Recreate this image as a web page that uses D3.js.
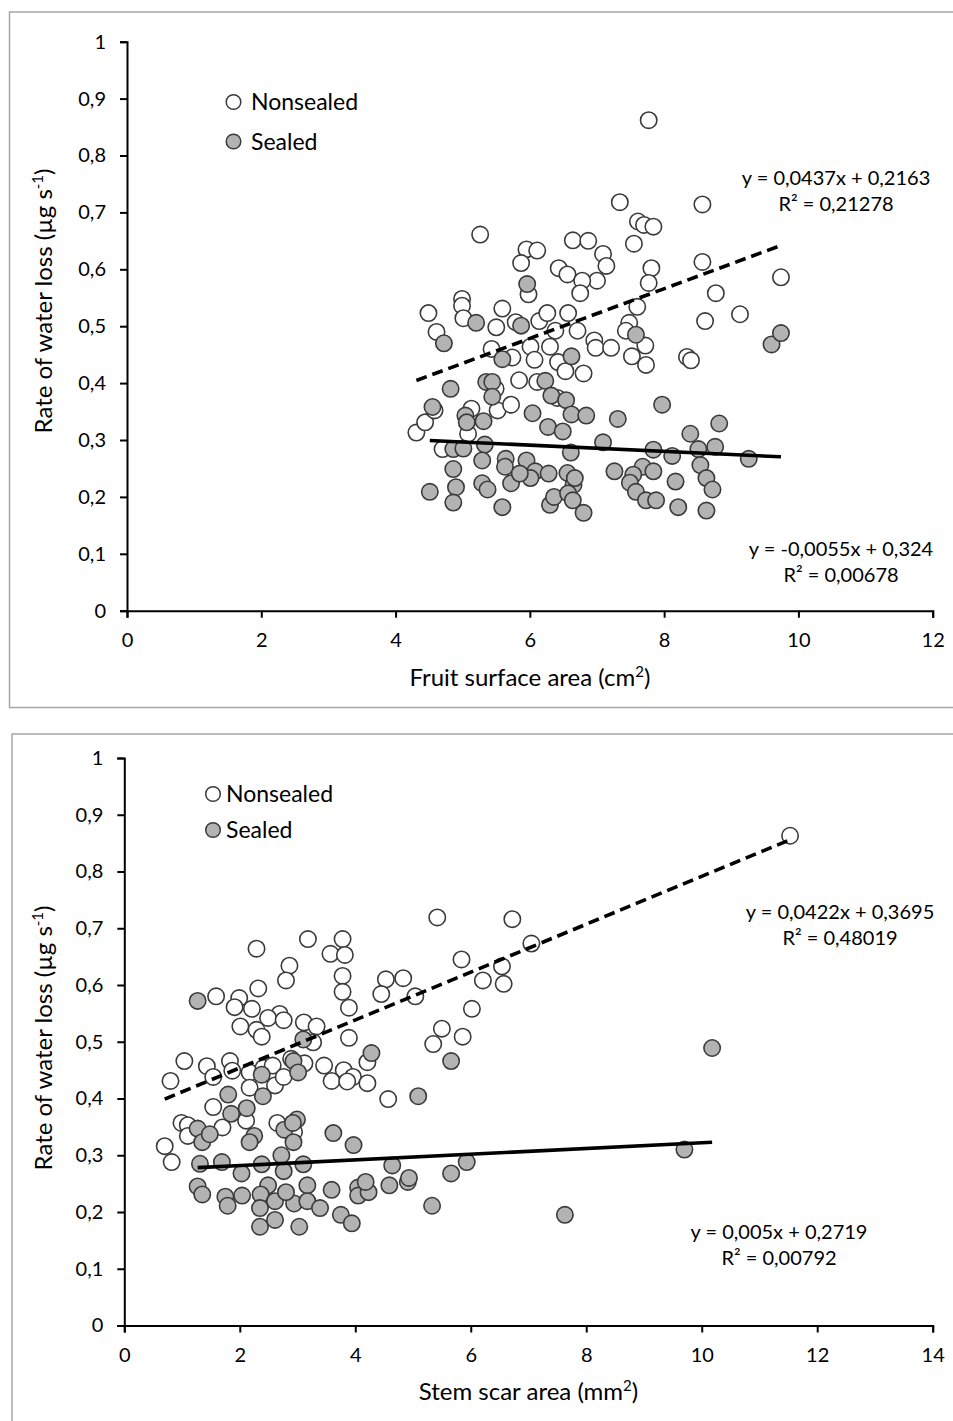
<!DOCTYPE html>
<html>
<head>
<meta charset="utf-8">
<script src="https://cdn.jsdelivr.net/npm/d3@7"></script>
<style>
body { margin: 0; background: #fff; }
svg { display: block; font-family: Lato, sans-serif; }
</style>
</head>
<body>
<div id="chart"></div>
<script>
var w = 953;
var h = 1421;

// top panel: fruit surface area (cm2) against rate of water loss
var fruitNonsealed = [
	[7.77,0.862],[7.34,0.718],[8.57,0.714],[5.26,0.661],[6.64,0.651],[6.87,0.650],
	[7.61,0.684],[7.70,0.678],[7.84,0.675],[7.55,0.645],[5.95,0.635],[6.11,0.633],
	[5.87,0.611],[5.98,0.556],[6.43,0.602],[6.56,0.591],[7.09,0.627],[7.14,0.606],
	[7.00,0.580],[6.78,0.580],[7.81,0.602],[7.77,0.576],[8.57,0.613],[9.74,0.586],
	[8.77,0.558],[6.75,0.558],[8.61,0.509],[9.13,0.521],[4.49,0.523],[4.99,0.548],
	[4.99,0.536],[5.01,0.514],[5.59,0.531],[5.50,0.498],[5.79,0.507],[6.14,0.509],
	[6.26,0.523],[6.57,0.523],[6.38,0.492],[6.71,0.492],[4.61,0.490],[7.48,0.506],
	[7.60,0.534],[7.43,0.492],[7.72,0.466],[7.52,0.447],[7.73,0.432],[6.96,0.475],
	[6.98,0.462],[7.21,0.462],[6.01,0.464],[6.07,0.441],[5.74,0.445],[5.84,0.405],
	[6.42,0.437],[6.30,0.464],[6.53,0.421],[6.80,0.417],[6.41,0.374],[8.34,0.446],
	[8.40,0.440],[6.11,0.402],[4.31,0.313],[4.44,0.331],[4.58,0.352],[4.70,0.284],
	[5.13,0.355],[5.08,0.311],[5.52,0.352],[5.72,0.362],[5.49,0.390],[5.43,0.460]
];
var fruitSealed = [
	[5.96,0.574],[5.20,0.506],[5.87,0.501],[4.72,0.470],[5.59,0.442],[6.62,0.447],
	[7.58,0.485],[9.60,0.468],[9.74,0.488],[4.82,0.390],[5.35,0.402],[5.44,0.402],
	[6.23,0.404],[5.44,0.376],[6.32,0.378],[6.54,0.370],[7.97,0.362],[4.55,0.358],
	[5.04,0.343],[5.06,0.331],[5.31,0.333],[6.04,0.347],[6.62,0.345],[6.84,0.343],
	[7.31,0.337],[8.82,0.329],[6.27,0.323],[6.49,0.315],[8.39,0.311],[5.33,0.292],
	[6.61,0.278],[7.09,0.296],[7.84,0.283],[8.51,0.284],[8.76,0.288],[8.12,0.272],
	[9.26,0.267],[4.86,0.284],[5.01,0.285],[5.29,0.264],[5.64,0.267],[5.95,0.264],
	[4.86,0.249],[5.63,0.253],[6.08,0.245],[6.28,0.241],[6.56,0.242],[7.26,0.245],
	[7.68,0.253],[7.54,0.239],[7.84,0.245],[8.54,0.256],[8.63,0.233],[4.51,0.209],
	[4.90,0.217],[5.29,0.224],[5.37,0.213],[5.72,0.224],[6.01,0.233],[6.65,0.221],
	[6.67,0.233],[7.49,0.225],[7.58,0.209],[8.17,0.227],[8.72,0.213],[4.86,0.190],
	[5.59,0.182],[6.30,0.186],[6.36,0.200],[6.57,0.206],[6.64,0.194],[6.80,0.172],
	[7.73,0.194],[7.88,0.194],[8.21,0.182],[8.63,0.176],[5.85,0.241]
];

// bottom panel: stem scar area (mm2) against rate of water loss
var scarNonsealed = [
	[11.53,0.863],[5.42,0.719],[6.72,0.716],[7.05,0.673],[2.29,0.664],[3.18,0.681],
	[3.78,0.681],[3.57,0.655],[3.82,0.653],[2.86,0.634],[5.84,0.645],[6.54,0.633],
	[2.80,0.608],[3.78,0.616],[2.32,0.594],[1.59,0.580],[1.99,0.577],[1.91,0.561],
	[2.21,0.558],[3.78,0.588],[3.89,0.560],[4.53,0.610],[4.83,0.612],[4.45,0.584],
	[5.04,0.580],[6.21,0.608],[6.57,0.602],[6.02,0.558],[2.69,0.549],[2.49,0.542],
	[2.76,0.538],[2.01,0.527],[2.29,0.521],[2.38,0.509],[3.11,0.534],[3.33,0.527],
	[3.27,0.499],[3.89,0.507],[5.50,0.523],[5.35,0.496],[5.86,0.509],[0.80,0.431],
	[1.04,0.466],[1.43,0.457],[1.83,0.466],[1.87,0.449],[2.17,0.446],[2.41,0.454],
	[2.57,0.458],[2.89,0.470],[3.12,0.462],[3.46,0.458],[3.80,0.450],[3.96,0.438],
	[3.59,0.431],[3.86,0.430],[4.21,0.464],[4.21,0.427],[4.57,0.399],[1.54,0.438],
	[1.54,0.385],[2.17,0.419],[2.61,0.423],[2.76,0.438],[0.99,0.357],[1.10,0.353],
	[1.10,0.334],[0.70,0.316],[0.82,0.288],[1.70,0.349],[2.11,0.361],[2.65,0.357],
	[2.94,0.341]
];
var scarSealed = [
	[1.27,0.572],[10.18,0.489],[5.66,0.466],[4.28,0.480],[3.10,0.504],[2.93,0.466],
	[3.01,0.446],[2.38,0.442],[1.80,0.407],[2.40,0.404],[5.09,0.404],[1.85,0.373],
	[2.12,0.383],[3.62,0.339],[3.97,0.318],[1.27,0.347],[1.35,0.323],[1.48,0.337],
	[2.25,0.334],[2.17,0.323],[2.77,0.345],[2.99,0.363],[2.92,0.357],[2.93,0.323],
	[9.70,0.310],[1.31,0.285],[1.69,0.288],[2.72,0.300],[2.38,0.284],[3.10,0.284],
	[2.76,0.272],[2.03,0.268],[4.64,0.282],[5.93,0.288],[5.66,0.268],[1.27,0.245],
	[1.35,0.231],[1.75,0.227],[1.79,0.211],[2.04,0.229],[2.49,0.247],[2.36,0.231],
	[2.61,0.219],[2.35,0.207],[2.35,0.174],[2.94,0.215],[2.61,0.186],[3.03,0.174],
	[3.17,0.247],[3.17,0.219],[3.39,0.207],[3.59,0.239],[3.75,0.195],[3.94,0.180],
	[4.05,0.243],[4.05,0.229],[4.23,0.235],[4.18,0.253],[4.59,0.247],[4.91,0.253],
	[4.93,0.260],[5.33,0.211],[7.63,0.195],[2.80,0.235]
];

// fitted lines: [slope, intercept]
var fruitFitNonsealed = [0.0437, 0.2163];
var fruitFitSealed = [-0.0055, 0.324];
var scarFitNonsealed = [0.0422, 0.3695];
var scarFitSealed = [0.005, 0.2719];

var fruitEqNonsealed = ["y = 0,0437x + 0,2163", "R² = 0,21278"];
var fruitEqSealed = ["y = -0,0055x + 0,324", "R² = 0,00678"];
var scarEqNonsealed = ["y = 0,0422x + 0,3695", "R² = 0,48019"];
var scarEqSealed = ["y = 0,005x + 0,2719", "R² = 0,00792"];

var fruitXTicks = [0, 2, 4, 6, 8, 10, 12];
var scarXTicks = [0, 2, 4, 6, 8, 10, 12, 14];
var yTicks = [0, 0.1, 0.2, 0.3, 0.4, 0.5, 0.6, 0.7, 0.8, 0.9, 1];
var seriesNames = ["Nonsealed", "Sealed"];

var commaFormat = d3.formatLocale({decimal: ",", thousands: ".", grouping: [3], currency: ["", ""]}).format("~g");

var svg = d3.select("#chart")
			.append("svg")
			.attr("width", w)
			.attr("height", h);

var panels = [
	{
		frame: [9.5, 12, 960, 695.5],
		left: 127, right: 932.7, top: 41.7, bottom: 610.7,
		xMax: 12, xTicks: fruitXTicks,
		nonsealed: fruitNonsealed, sealed: fruitSealed,
		fitN: fruitFitNonsealed, fitS: fruitFitSealed,
		eqN: fruitEqNonsealed, eqS: fruitEqSealed,
		eqNPos: [836, 185], eqSPos: [841, 556], eqGap: 26,
		legend: [233.5, 102, 39.5, 251],
		xTitle: "Fruit surface area (cm", xTitleY: 686, yTitleY: 301
	},
	{
		frame: [12, 734, 960, 720],
		left: 124.3, right: 932.7, top: 758, bottom: 1325.5,
		xMax: 14, xTicks: scarXTicks,
		nonsealed: scarNonsealed, sealed: scarSealed,
		fitN: scarFitNonsealed, fitS: scarFitSealed,
		eqN: scarEqNonsealed, eqS: scarEqSealed,
		eqNPos: [840, 919], eqSPos: [779, 1239], eqGap: 26,
		legend: [213, 794, 36, 226],
		xTitle: "Stem scar area (mm", xTitleY: 1400, yTitleY: 1038
	}
];

panels.forEach(function(p) {
	var g = svg.append("g");

	g.append("rect")
		.attr("x", p.frame[0])
		.attr("y", p.frame[1])
		.attr("width", p.frame[2])
		.attr("height", p.frame[3])
		.attr("fill", "none")
		.attr("stroke", "#a6a6a6")
		.attr("stroke-width", 1.5);

	var xScale = d3.scaleLinear().domain([0, p.xMax]).range([p.left, p.right]);
	var yScale = d3.scaleLinear().domain([0, 1]).range([p.bottom, p.top]);

	var yAxis = g.append("g")
		.attr("transform", "translate(" + p.left + ",0)")
		.call(d3.axisLeft(yScale).tickValues(yTicks).tickSize(7).tickPadding(14)
			.tickFormat(function(d) { return commaFormat(d); }));
	var xAxis = g.append("g")
		.attr("transform", "translate(0," + p.bottom + ")")
		.call(d3.axisBottom(xScale).tickValues(p.xTicks).tickSize(7).tickPadding(15)
			.tickFormat(function(d) { return commaFormat(d); }));

	[yAxis, xAxis].forEach(function(a) {
		a.selectAll("path, line").attr("stroke", "#000").attr("stroke-width", 2);
		a.selectAll("text").attr("font-size", 20).attr("fill", "#000").attr("font-family", "Lato, sans-serif");
	});

	// axis titles
	var xt = g.append("text")
		.attr("x", (p.left + p.right) / 2)
		.attr("y", p.xTitleY)
		.attr("text-anchor", "middle")
		.attr("font-size", 24)
		.text(p.xTitle);
	xt.append("tspan").attr("baseline-shift", "super").attr("font-size", 15).text("2");
	xt.append("tspan").text(")");

	var yt = g.append("text")
		.attr("transform", "translate(52," + p.yTitleY + ") rotate(-90)")
		.attr("text-anchor", "middle")
		.attr("font-size", 24)
		.text("Rate of water loss (µg s");
	yt.append("tspan").attr("baseline-shift", "super").attr("font-size", 15).text("-1");
	yt.append("tspan").text(")");

	// points
	g.append("g").selectAll("circle")
		.data(p.nonsealed)
		.enter()
		.append("circle")
		.attr("cx", function(d) { return xScale(d[0]); })
		.attr("cy", function(d) { return yScale(d[1]); })
		.attr("r", 8.2)
		.attr("fill", "#fff")
		.attr("stroke", "#3a3a3a")
		.attr("stroke-width", 1.6);

	g.append("g").selectAll("circle")
		.data(p.sealed)
		.enter()
		.append("circle")
		.attr("cx", function(d) { return xScale(d[0]); })
		.attr("cy", function(d) { return yScale(d[1]); })
		.attr("r", 8.2)
		.attr("fill", "#b3b3b3")
		.attr("stroke", "#3a3a3a")
		.attr("stroke-width", 1.6);

	// trend lines over the data range
	var fits = [
		{fit: p.fitN, ext: d3.extent(p.nonsealed, function(d) { return d[0]; }), dash: "11,6"},
		{fit: p.fitS, ext: d3.extent(p.sealed, function(d) { return d[0]; }), dash: null}
	];
	fits.forEach(function(f) {
		g.append("path")
			.attr("d", d3.line()
				.x(function(d) { return xScale(d); })
				.y(function(d) { return yScale(f.fit[0] * d + f.fit[1]); })(f.ext))
			.attr("fill", "none")
			.attr("stroke", "#000")
			.attr("stroke-width", 3.6)
			.attr("stroke-dasharray", f.dash);
	});

	// equations
	[[p.eqN, p.eqNPos], [p.eqS, p.eqSPos]].forEach(function(e) {
		g.append("g").selectAll("text")
			.data(e[0])
			.enter()
			.append("text")
			.attr("x", e[1][0])
			.attr("y", function(d, i) { return e[1][1] + i * p.eqGap; })
			.attr("text-anchor", "middle")
			.attr("font-size", 20)
			.text(function(d) { return d; });
	});

	// legend
	var lg = g.append("g").attr("transform", "translate(" + p.legend[0] + "," + p.legend[1] + ")");
	lg.selectAll("circle")
		.data(seriesNames)
		.enter()
		.append("circle")
		.attr("cx", 0)
		.attr("cy", function(d, i) { return i * p.legend[2]; })
		.attr("r", 7.3)
		.attr("fill", function(d, i) { return i ? "#b3b3b3" : "#fff"; })
		.attr("stroke", "#3a3a3a")
		.attr("stroke-width", 1.5);
	lg.selectAll("text")
		.data(seriesNames)
		.enter()
		.append("text")
		.attr("x", p.legend[3] - p.legend[0])
		.attr("y", function(d, i) { return i * p.legend[2] + 8; })
		.attr("font-size", 23)
		.text(function(d) { return d; });
});
</script>
</body>
</html>
